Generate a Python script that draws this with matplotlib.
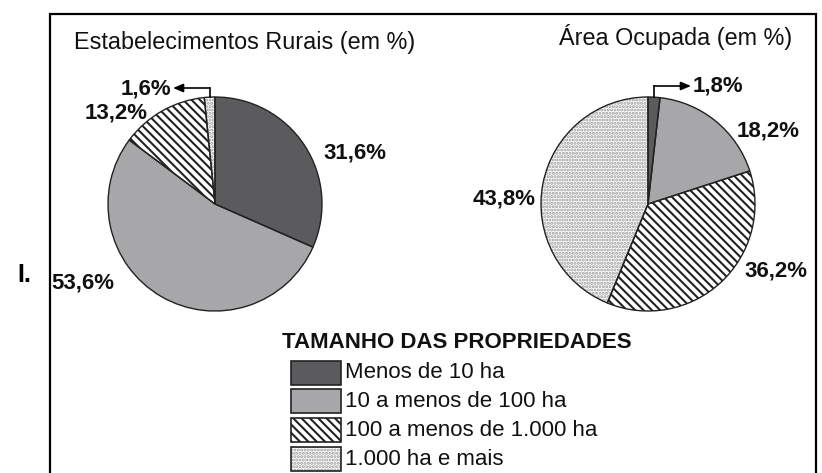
import numpy as np
import matplotlib.pyplot as plt
from matplotlib.patches import Rectangle

plt.rcParams['font.family'] = ['Liberation Sans', 'DejaVu Sans']
plt.rcParams['hatch.linewidth'] = 1.5

# data
categories = ['Menos de 10 ha', '10 a menos de 100 ha',
              '100 a menos de 1.000 ha', '1.000 ha e mais']
estab = [31.6, 53.6, 13.2, 1.6]
area = [1.8, 18.2, 36.2, 43.8]
estab_labels = ['31,6%', '53,6%', '13,2%', '1,6%']
area_labels = ['1,8%', '18,2%', '36,2%', '43,8%']

colors = ['#5b5b5d', '#a7a7a9', 'white', 'white']
hatches = [None, None, '\\\\\\\\', '.....']
hatch_cols = ['#222222', '#222222', '#222222', '#9a9a9a']

W, H = 822, 473
fig = plt.figure(figsize=(W / 100, H / 100), dpi=100)
ax = fig.add_axes([0, 0, 1, 1])


def py(y):
    # pixel row (from top) to data y
    return H - y


def draw_pie(vals, cx):
    wedges, _ = ax.pie(vals, colors=colors, startangle=90, counterclock=False,
                       center=(cx, py(204)), radius=107,
                       wedgeprops=dict(linewidth=0))
    for w, h, hc in zip(wedges, hatches, hatch_cols):
        w.set_edgecolor(hc)
        if h:
            w.set_hatch(h)
    # outlines on top
    ax.pie(vals, colors=['none'] * 4, startangle=90, counterclock=False,
           center=(cx, py(204)), radius=107,
           wedgeprops=dict(edgecolor='#222222', linewidth=1.0, fill=False))
    return wedges


wl = draw_pie(estab, 215)
wr = draw_pie(area, 648)

ax.set_xlim(0, W)
ax.set_ylim(0, H)
ax.set_aspect('auto')
ax.axis('off')

# frame
ax.plot([50, 50, 816, 816], [0, py(14), py(14), 0], color='black', lw=1.6,
        solid_joinstyle='miter')

tkw = dict(fontsize=16.8, color='#111111', va='center')
ax.text(74, py(43), 'Estabelecimentos Rurais (em %)', ha='left', **tkw)
ax.text(559, py(37), 'Área Ocupada (em %)', ha='left', **tkw)
ax.text(17, py(275), 'I.', ha='left', fontsize=18, weight='bold', va='center')

lkw = dict(fontsize=16, weight='bold', color='#111111', va='center', ha='center')
# left pie labels
ax.text(355, py(153), estab_labels[0], **lkw)
ax.text(83, py(283), estab_labels[1], **lkw)
ax.text(116, py(113), estab_labels[2], **lkw)
ax.text(146, py(89), estab_labels[3], **lkw)
# right pie labels
ax.text(718, py(86), area_labels[0], **lkw)
ax.text(768, py(131), area_labels[1], **lkw)
ax.text(776, py(271), area_labels[2], **lkw)
ax.text(504, py(199), area_labels[3], **lkw)


def small_slice_arrow(w, y_line, x_end):
    mid = np.deg2rad((w.theta1 + w.theta2) / 2)
    cx, cy = w.center
    x0 = cx + w.r * np.cos(mid)
    y0 = cy + w.r * np.sin(mid)
    ax.plot([x0, x0], [y0, y_line], color='black', lw=1.2)
    ax.annotate('', xy=(x_end, y_line), xytext=(x0, y_line),
                arrowprops=dict(arrowstyle='-|>,head_length=0.6,head_width=0.25',
                                color='black', lw=1.2, shrinkA=0, shrinkB=0))


small_slice_arrow(wl[3], py(88), 173)
small_slice_arrow(wr[0], py(86), 691)

# legend
ax.text(282, py(342), 'TAMANHO DAS PROPRIEDADES', fontsize=16, weight='bold',
        ha='left', va='center', color='#111111')
rows = [373, 401, 430, 459]
for cat, c, h, hc, yr in zip(categories, colors, hatches, hatch_cols, rows):
    ax.add_patch(Rectangle((291, py(yr + 12)), 50, 24, facecolor=c,
                           edgecolor=hc, lw=0, hatch=h))
    ax.add_patch(Rectangle((291, py(yr + 12)), 50, 24, fill=False,
                           edgecolor='#222222', lw=1.2))
    ax.text(345, py(yr), cat, fontsize=16, ha='left', va='center',
            color='#111111')

fig.savefig('out.png', dpi=100)
